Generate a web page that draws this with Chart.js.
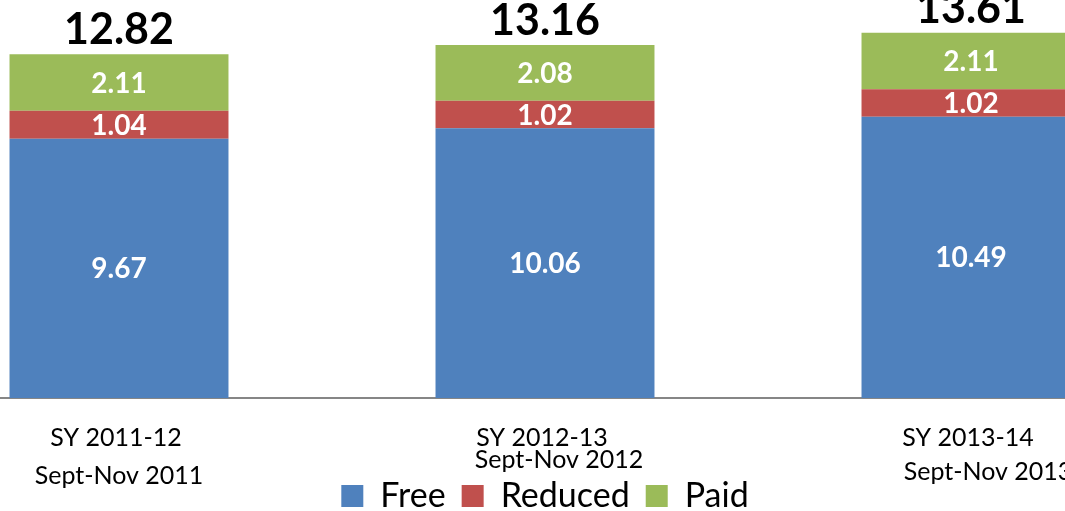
<!DOCTYPE html>
<html>
<head>
<meta charset="utf-8">
<script src="https://cdn.jsdelivr.net/npm/chart.js@4/dist/chart.umd.min.js"></script>
<style>
  html, body { margin: 0; padding: 0; background: #fff; overflow: hidden; }
  body { width: 1065px; height: 511px; position: relative; }
  /* the source slide is cropped: bars sit 426px apart and the third one runs off the right edge */
  #wrap { position: absolute; left: -94px; top: 0; width: 1278px; height: 523px; }
</style>
</head>
<body>
<div id="wrap"><canvas id="mealChart"></canvas></div>
<script>
// chart data
const categories = ["SY 2011-12", "SY 2012-13", "SY 2013-14"];
const periods = ["Sept-Nov 2011", "Sept-Nov 2012", "Sept-Nov 2013"];
const freeValues = [9.67, 10.06, 10.49];
const reducedValues = [1.04, 1.02, 1.02];
const paidValues = [2.11, 2.08, 2.11];
const totals = [12.82, 13.16, 13.61];

const FONT = "Lato, 'Open Sans', sans-serif";

// second label line does not sit the same way under every bar in the original
const periodDy = [38, 22, 34];
const periodDx = [0, 14, 17];

// white value inside each segment + bold total above each bar
const valueLabels = {
    id: "valueLabels",
    afterDatasetsDraw(chart) {
        const ctx = chart.ctx;
        ctx.save();
        ctx.textAlign = "center";
        ctx.textBaseline = "middle";
        ctx.fillStyle = "#fff";
        ctx.font = "bold 28px " + FONT;
        chart.data.datasets.forEach((ds, i) => {
            chart.getDatasetMeta(i).data.forEach((bar, j) => {
                ctx.fillText(ds.data[j].toFixed(2), bar.x, (bar.y + bar.base) / 2 + 1);
            });
        });
        const top = chart.getDatasetMeta(chart.data.datasets.length - 1).data;
        ctx.fillStyle = "#000";
        ctx.font = "bold 43px " + FONT;
        ctx.textBaseline = "alphabetic";
        top.forEach((bar, j) => ctx.fillText(totals[j].toFixed(2), bar.x, bar.y - 10));
        ctx.restore();
    }
};

// two-line category labels under the axis
const categoryLabels = {
    id: "categoryLabels",
    afterDraw(chart) {
        const ctx = chart.ctx;
        const x = chart.scales.x;
        const y0 = chart.chartArea.bottom + 40;
        ctx.save();
        ctx.textAlign = "center";
        ctx.textBaseline = "middle";
        ctx.fillStyle = "#000";
        ctx.font = "25px " + FONT;
        categories.forEach((c, i) => {
            const px = x.getPixelForValue(i);
            ctx.fillText(c, px - 3, y0);
            ctx.fillText(periods[i], px + periodDx[i], y0 + periodDy[i]);
        });
        ctx.restore();
    }
};

const ctx = document.getElementById("mealChart").getContext("2d");
const mealChart = new Chart(ctx, {
    type: "bar",
    data: {
        labels: categories,
        datasets: [
            { label: "Free", data: freeValues, backgroundColor: "#4f81bd" },
            { label: "Reduced", data: reducedValues, backgroundColor: "#c0504d" },
            { label: "Paid", data: paidValues, backgroundColor: "#9bbb59" }
        ]
    },
    options: {
        responsive: true,
        maintainAspectRatio: false,
        animation: false,
        layout: { padding: 0 },
        datasets: {
            bar: { categoryPercentage: 1, barPercentage: 0.514, borderWidth: 0 }
        },
        scales: {
            x: {
                stacked: true,
                grid: { display: false },
                border: { display: true, color: "#868686", width: 2 },
                ticks: { display: false },
                afterFit: (scale) => { scale.height = 65; }
            },
            y: {
                stacked: true,
                display: false,
                min: 0,
                max: 14.84
            }
        },
        plugins: {
            legend: {
                position: "bottom",
                labels: {
                    color: "#000",
                    font: { family: FONT, size: 34 },
                    boxWidth: 22,
                    boxHeight: 22,
                    padding: 16
                }
            },
            tooltip: { enabled: false }
        }
    },
    plugins: [valueLabels, categoryLabels]
});
</script>
</body>
</html>
